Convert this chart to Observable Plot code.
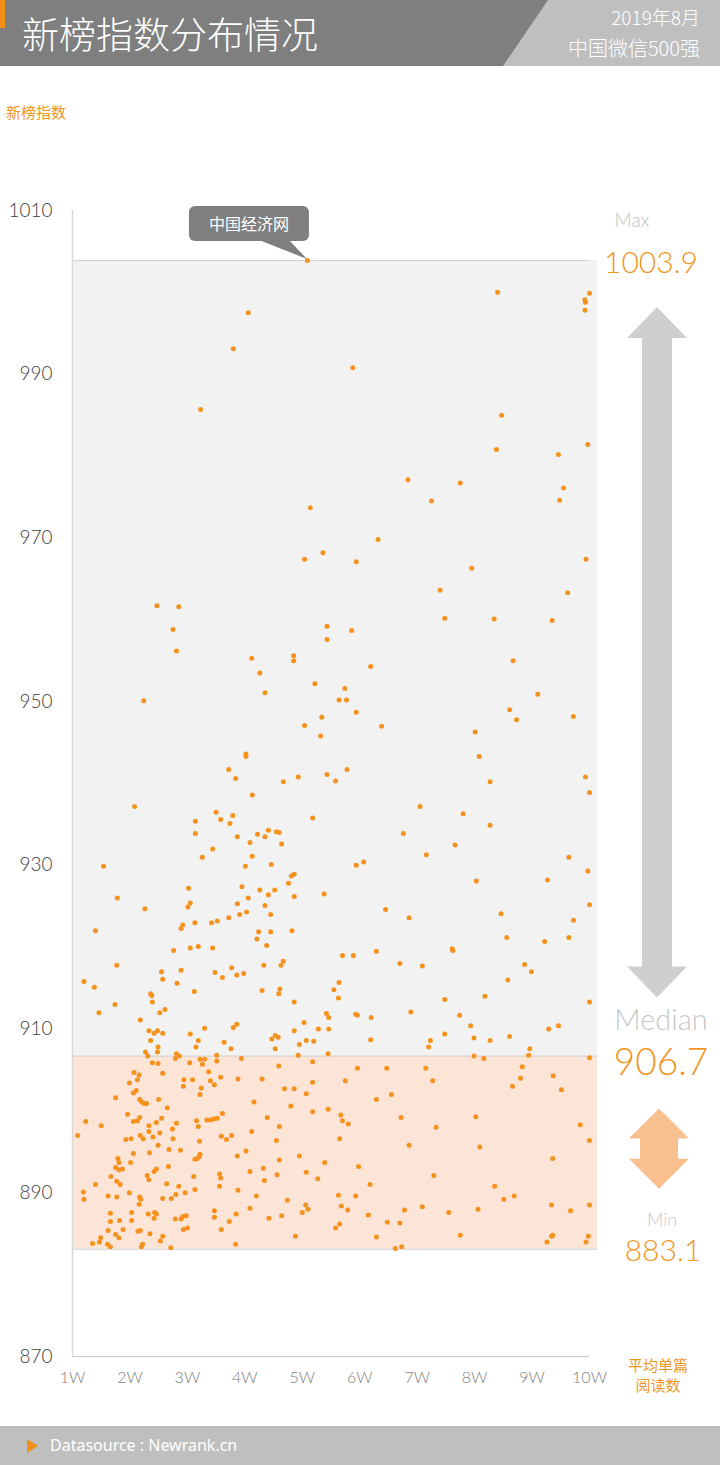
<!DOCTYPE html>
<html><head><meta charset="utf-8">
<script src="https://cdn.jsdelivr.net/npm/d3@7"></script>
<script src="https://cdn.jsdelivr.net/npm/@observablehq/plot@0.6"></script>
<style>
body{margin:0;background:#fff;}
#page{position:relative;width:720px;height:1465px;overflow:hidden;font-family:"Noto Sans CJK SC","Noto Sans",sans-serif;}
#chart{position:absolute;left:0;top:0;}
#hdr{position:absolute;left:0;top:0;width:720px;height:66px;background:#7f7f7f;}
#hdr2{position:absolute;left:503px;top:0;width:217px;height:66px;background:#bfbfbf;clip-path:polygon(45px 0,100% 0,100% 100%,0 100%);}
#bar{position:absolute;left:0;top:0;width:5px;height:28px;background:#f39019;}
#title{position:absolute;left:22px;top:13px;font-size:37px;line-height:40px;color:#fff;font-weight:300;white-space:nowrap;}
#date{position:absolute;right:20px;top:5px;font-size:19px;line-height:24px;color:#fff;font-weight:300;}
#sub{position:absolute;right:20px;top:35px;font-size:20px;line-height:26px;color:#fff;font-weight:300;}
#ytitle{position:absolute;left:6px;top:102px;font-size:15px;line-height:20px;color:#f0961e;}
#xtitle{position:absolute;left:618px;width:80px;top:1355px;font-size:15px;line-height:20px;color:#f0961e;text-align:center;}
#foot{position:absolute;left:0;top:1426px;width:720px;height:39px;background:#bfbfbf;}
#tri{position:absolute;left:27px;top:13px;width:0;height:0;border-top:7px solid transparent;border-bottom:7px solid transparent;border-left:11px solid #f39019;}
#src{position:absolute;left:50px;top:0;line-height:39px;font-size:16px;color:#fff;font-family:"Noto Sans","Open Sans",sans-serif;}
</style></head>
<body>
<div id="page">
  <div id="chart"></div>
  <div id="hdr"></div><div id="hdr2"></div><div id="bar"></div>
  <div id="title"></div>
  <div id="date"></div>
  <div id="sub"></div>
  <div id="ytitle"></div>
  <div id="xtitle"></div>
  <div id="foot"><div id="tri"></div><div id="src"></div></div>
</div>
<script>
// ---- texts ----
const titleText = "新榜指数分布情况";
const dateText = "2019年8月";
const subText = "中国微信500强";
const yTitle = "新榜指数";
const xTitle = ["平均单篇", "阅读数"];
const sourceText = "Datasource : Newrank.cn";

// ---- scales / ticks ----
const yTicks = [870, 890, 910, 930, 950, 970, 990, 1010];
const xTicks = [1, 2, 3, 4, 5, 6, 7, 8, 9, 10];
const xTickLabels = ["1W","2W","3W","4W","5W","6W","7W","8W","9W","10W"];

// ---- statistics ----
const maxValue = 1003.9, medianValue = 906.7, minValue = 883.1;
const maxName = "中国经济网";
const maxReads = 5.09;

// ---- scatter points: [平均单篇阅读数 (万), 新榜指数] ----
const scatterPoints = [
[5.09,1003.9],[4.06,997.5],[3.80,993.1],[3.23,985.7],[8.40,1000.0],[10.0,999.9],[9.92,999.1],[9.93,998.8],[9.92,997.8],
[5.88,990.8],[8.47,985.0],[8.38,980.8],[9.97,981.4],[9.46,980.2],[6.84,977.1],[7.75,976.7],[7.25,974.5],[9.55,976.1],
[9.48,974.6],[6.32,969.8],[5.36,968.2],[5.94,967.1],[7.95,966.3],[9.94,967.4],[7.40,963.6],[9.62,963.3],[7.48,960.2],
[8.34,960.1],[9.35,959.9],[5.43,959.2],[5.43,957.6],[5.86,958.7],[6.19,954.3],[8.67,955.0],[5.74,951.6],[9.10,950.9],
[5.64,950.2],[5.77,950.2],[5.14,973.7],[5.04,967.4],[2.47,961.7],[2.85,961.6],[2.75,958.8],[2.81,956.2],[2.24,950.1],
[4.12,955.3],[4.26,953.5],[4.35,951.1],[4.85,955.6],[4.85,955.0],[5.22,952.2],[5.34,948.1],[5.04,947.1],[5.32,945.8],
[4.02,943.6],[4.02,943.3],[3.72,941.7],[3.84,940.6],[4.67,940.2],[4.93,940.8],[5.43,941.1],[4.13,938.6],[2.08,937.2],
[5.18,935.8],[3.50,936.5],[3.79,936.1],[3.14,935.4],[3.58,935.6],[3.74,935.1],[3.14,933.9],[3.87,933.5],[4.22,933.8],
[4.35,933.5],[4.41,934.3],[4.55,934.1],[4.60,934.0],[4.09,932.8],[4.64,932.6],[3.44,932.0],
[3.26,931.0],[4.13,931.1],[4.01,929.9],[4.46,930.1],[1.54,929.9],[1.78,926.0],[2.26,924.7],[3.02,927.2],[3.01,924.9],
[3.05,925.4],[3.13,923.0],[2.89,922.3],[2.92,922.7],[3.95,927.4],[4.26,927.0],[4.41,926.4],[4.52,927.0],[4.76,927.8],
[4.81,928.7],[4.86,928.9],[4.86,926.2],[5.38,926.5],[3.87,925.3],[4.06,926.0],[4.35,925.1],[4.45,924.0],[3.91,924.0],
[4.03,924.3],[3.72,923.6],[3.42,923.0],[3.52,923.2],[1.40,922.0],[4.24,921.9],[4.45,921.9],[4.21,921.0],[4.38,920.2],
[4.82,922.0],[2.76,919.6],[3.05,919.9],[3.19,920.1],[3.44,919.9],[1.77,917.8],[2.55,917.0],[2.57,916.1],[2.89,917.2],
[2.82,915.6],[3.12,914.6],[3.48,916.9],[3.61,916.3],[3.77,917.5],[3.86,916.6],[3.98,916.8],[4.33,917.8],[4.63,917.8],
[4.67,918.3],[1.20,915.8],[1.38,915.1],[1.74,913.0],[1.46,912.0],[2.36,914.3],[2.38,914.1],[2.39,913.3],[2.52,912.0],
[2.61,912.4],[2.18,911.1],[4.30,914.7],[4.61,914.9],[4.59,914.3],[4.86,913.3],[5.42,911.9],[5.46,911.4],[5.03,910.8],
[5.28,910.0],[5.46,910.0],[4.86,909.8],[2.33,909.8],[2.42,909.5],[2.48,909.8],[2.57,909.5],[2.36,908.6],[2.49,907.8],
[3.05,909.4],[3.30,910.1],[3.80,910.2],[3.86,910.6],[3.19,908.6],[3.15,907.8],[3.64,908.4],[3.76,907.6],[4.47,908.8],
[4.53,909.2],[4.58,909.0],[4.53,907.6],[4.95,908.1],[5.07,908.6],[5.20,908.5],
[2.27,907.2],[2.31,906.7],[2.48,907.2],[2.81,907.0],[2.86,906.7],[2.79,906.4],[3.51,906.8],[3.94,906.4],[4.93,906.8],
[5.45,907.0],[2.39,905.9],[2.49,905.8],[3.04,905.9],[3.22,906.3],[3.30,906.3],[3.26,905.7],[3.51,906.1],[2.57,904.6],
[2.07,904.7],[2.16,904.4],[2.13,903.8],[1.99,903.4],[1.75,901.6],[2.06,902.2],[2.11,902.5],[2.17,901.4],[2.21,901.1],
[2.25,900.9],[2.29,900.9],[2.50,901.4],[2.65,900.4],[2.94,903.8],[3.09,903.8],[2.93,903.0],[3.24,902.8],[3.37,904.8],
[3.40,903.7],[3.47,903.2],[3.58,904.1],[3.22,902.0],[3.88,903.9],[4.30,903.9],[4.59,905.5],[4.69,902.7],[4.86,902.7],
[5.07,902.1],[5.18,906.0],[5.18,903.5],[4.80,900.6],[5.18,899.9],[5.45,900.2],[4.16,901.1],[4.39,899.2],[1.23,898.7],
[1.50,898.2],[1.09,897.0],[1.96,899.6],[2.06,898.7],[2.13,898.8],[2.17,899.2],[2.33,898.2],[2.46,898.6],[2.55,899.1],
[2.81,898.5],[2.74,897.8],[2.33,897.5],[2.52,897.3],[2.18,897.0],[2.23,896.6],[2.40,896.8],[1.93,896.5],[2.02,896.6],
[2.75,896.6],[2.49,895.8],[2.68,895.3],[2.88,895.2],[2.34,894.9],[2.06,894.8],[3.16,898.8],[3.19,898.1],[3.34,898.9],
[3.40,898.9],[3.46,899.0],[3.52,899.1],[3.61,899.7],[3.21,896.3],[3.59,896.9],[3.68,896.5],[3.77,897.0],[4.12,897.5],
[4.60,898.1],[4.55,896.4],[3.87,894.5],[4.02,895.1],[4.60,894.0],[4.95,894.5],[5.39,893.7],[3.13,894.1],[3.17,894.2],
[3.21,894.4],[3.22,894.7],[1.79,894.2],[1.81,893.7],[1.75,893.1],[1.81,892.8],[1.87,892.9],[2.01,893.7],[2.67,893.2],
[2.42,892.6],[2.46,892.9],[2.30,892.1],[2.33,891.6],[1.67,892.0],[1.77,891.4],[1.83,891.0],[1.40,891.0],[2.64,891.1],
[2.85,890.8],[3.11,892.0],[3.13,890.4],[2.96,890.0],[2.80,889.8],[2.72,889.3],[2.57,889.3],[1.99,890.0],[2.17,889.5],
[2.19,889.2],[1.62,889.6],[1.77,889.5],[1.19,890.1],[1.20,889.2],[2.16,888.6],[3.56,892.3],[3.58,891.8],[3.56,890.8],
[3.88,890.3],[4.09,892.6],[4.32,893.0],[4.34,891.5],[4.56,892.2],[4.20,889.6],[4.09,888.1],[4.74,889.1],[5.07,892.5],
[5.27,891.7],[5.06,888.5],[5.10,888.0],[5.00,887.6],[4.64,887.2],[4.42,886.9],[3.85,887.4],[3.73,886.5],[3.47,887.8],
[3.47,887.0],[3.59,885.5],[2.79,886.8],[2.89,886.8],[2.92,887.1],[2.98,887.2],[2.93,885.5],[3.00,885.7],[2.43,887.6],
[2.46,887.4],[2.42,886.9],[2.32,887.4],[2.03,887.6],[2.03,886.6],[1.82,886.6],[1.66,887.5],[1.66,886.5],[1.62,885.4],
[1.88,885.5],[2.14,885.3],[2.18,885.4],[2.35,885.0],[2.57,884.7],[2.53,884.1],[1.75,884.9],[1.81,884.5],[1.49,884.5],
[1.47,884.0],[1.35,883.8],[1.61,883.7],[1.66,883.4],[2.22,883.7],[2.20,883.4],[2.71,883.3],[3.84,883.7],[4.88,884.7],
[5.94,948.7],[6.38,947.0],[8.61,949.0],[8.73,947.8],[9.72,948.2],[8.01,946.3],[8.08,943.3],[8.27,940.2],[5.58,940.3],
[5.78,941.7],[9.93,940.8],[10.0,938.9],[7.05,937.2],[7.80,936.3],[8.27,934.9],[6.76,933.9],[7.66,932.5],[7.16,931.3],
[5.94,930.0],[6.07,930.4],[9.64,931.0],[9.97,929.3],[8.03,928.1],[9.27,928.2],[6.45,924.6],[6.86,923.6],[8.46,924.1],
[10.0,925.2],[9.72,923.3],[8.56,921.2],[9.22,920.7],[9.64,921.2],[5.70,919.0],[5.89,919.0],[6.29,919.5],[7.61,919.8],
[7.62,919.6],[6.70,918.0],[7.09,917.7],[8.87,917.9],[8.99,917.0],[8.58,916.0],[5.64,915.7],[5.55,914.8],[5.63,913.8],
[7.48,913.6],[8.18,914.0],[10.0,913.3],[5.93,911.8],[5.96,911.7],[6.20,911.4],[6.89,912.1],[7.74,911.7],[7.93,910.4],
[7.48,909.4],[7.99,908.9],[8.61,909.1],[9.29,910.0],[9.46,910.4],[7.23,908.6],[8.27,908.6],
[6.19,908.7],[7.20,907.8],[7.99,906.7],[8.16,906.4],[8.96,907.6],[8.94,906.8],[10.0,906.5],[5.96,905.2],[6.47,905.2],
[7.15,905.2],[5.75,903.7],[7.27,903.7],[8.83,905.4],[8.80,904.0],[8.66,903.0],[9.37,904.3],[9.51,902.6],[6.29,901.4],
[6.55,902.0],[5.67,899.5],[5.70,898.8],[5.80,898.4],[6.72,899.2],[8.02,899.3],[7.33,898.0],[9.84,898.3],[10.0,896.4],
[5.65,896.6],[6.86,895.8],[8.09,895.6],[5.98,893.2],[9.36,894.2],[7.29,892.1],[6.18,891.0],[5.63,889.7],[5.93,889.6],
[5.68,888.4],[5.79,887.9],[6.15,887.3],[6.78,887.9],[7.09,888.3],[7.55,887.6],[8.06,888.0],[8.35,890.8],[8.51,889.2],
[8.69,889.6],[9.34,888.5],[9.67,887.8],[10.0,888.5],[5.58,885.7],[5.65,886.2],[6.48,886.4],[6.70,886.3],[6.29,884.6],
[6.62,883.2],[6.73,883.4],[7.75,884.8],[9.26,884.0],[9.34,884.7],[9.36,884.8],[9.98,884.7],[9.94,884.0]
];

// ---- colours ----
const orange = "#f5921e";
const orangeText = "#f0961e";
const upperBandFill = "#f2f2f2";
const lowerBandFill = "#fce4d6";

document.getElementById("title").textContent = titleText;
document.getElementById("date").textContent = dateText;
document.getElementById("sub").textContent = subText;
document.getElementById("ytitle").textContent = yTitle;
document.getElementById("xtitle").innerHTML = xTitle.join("<br>");
document.getElementById("src").textContent = sourceText;

const xMin = 1, xMax = 10, bandEnd = 10.14;
const font = '"Noto Sans CJK SC","Noto Sans",sans-serif';
const latin = 'Lato,"Noto Sans",sans-serif';

const chart = Plot.plot({
  width: 720, height: 1465,
  marginTop: 210, marginBottom: 109, marginLeft: 72, marginRight: 131,
  x: {domain: [xMin, xMax]},
  y: {domain: [870, 1010]},
  style: {fontFamily: font, background: "transparent", overflow: "visible"},
  marks: [
    Plot.rect([{y1: medianValue, y2: maxValue}], {x1: xMin, x2: bandEnd, y1: "y1", y2: "y2", fill: upperBandFill}),
    Plot.rect([{y1: minValue, y2: medianValue}], {x1: xMin, x2: bandEnd, y1: "y1", y2: "y2", fill: lowerBandFill}),
    Plot.ruleY([maxValue], {x1: xMin, x2: xMax, stroke: "#d0d0d0", strokeWidth: 1}),
    Plot.ruleY([medianValue, minValue], {x1: xMin, x2: bandEnd, stroke: "#d0d0d0", strokeWidth: 1}),
    Plot.ruleX([xMin], {y1: 870, y2: 1010, stroke: "#d9d9d9", strokeWidth: 1.5}),
    Plot.ruleY([870], {x1: xMin, x2: xMax, stroke: "#c9c9c9", strokeWidth: 1}),
    Plot.dot(scatterPoints, {x: d => d[0], y: d => d[1], r: 2.5, fill: orange, stroke: null}),
    Plot.axisY({ticks: yTicks, tickFormat: d => String(d), tickSize: 0, tickPadding: 20, fontSize: 19, fill: "#404040", fontWeight: 300, fontFamily: latin, label: null}),
    Plot.axisX({ticks: xTicks, tickFormat: d => xTickLabels[xTicks.indexOf(d)], tickSize: 0, tickPadding: 15, fontSize: 16, fill: "#7f7f7f", fontWeight: 300, fontFamily: latin, label: null})
  ]
});
document.getElementById("chart").appendChild(chart);

const xs = chart.scale("x"), ys = chart.scale("y");
const svg = d3.select(chart);
const g = svg.append("g").attr("font-family", font);

// callout for the max point
const px = xs.apply(maxReads), py = ys.apply(maxValue);
g.append("rect").attr("x", px - 118).attr("y", py - 54).attr("width", 120).attr("height", 35).attr("rx", 6).attr("fill", "#7f7f7f");
g.append("polygon").attr("points", [[px - 48, py - 20], [px - 18, py - 20], [px, py - 1]].map(p => p.join(",")).join(" ")).attr("fill", "#7f7f7f");
g.append("text").attr("x", px - 58).attr("y", py - 36).attr("dy", "0.35em").attr("text-anchor", "middle").attr("fill", "#fff").attr("font-size", 16).text(maxName);

// double arrows
function dblArrow(cx, top, bottom, headH, headHalf, shaftHalf, fill) {
  const pts = [
    [cx, top], [cx + headHalf, top + headH], [cx + shaftHalf, top + headH],
    [cx + shaftHalf, bottom - headH], [cx + headHalf, bottom - headH], [cx, bottom],
    [cx - headHalf, bottom - headH], [cx - shaftHalf, bottom - headH], [cx - shaftHalf, top + headH],
    [cx - headHalf, top + headH]
  ];
  g.append("polygon").attr("points", pts.map(p => p.join(",")).join(" ")).attr("fill", fill);
}
const rx = xs.apply(xMax);
dblArrow(rx + 68, ys.apply(maxValue) + 47, ys.apply(medianValue) - 58, 31, 30, 15, "#d0cece");
dblArrow(rx + 70, ys.apply(medianValue) + 53, ys.apply(minValue) - 60, 30, 30, 19, "#f9c08f");

function label(x, y, text, size, fill, weight) {
  g.append("text").attr("x", x).attr("y", y).attr("text-anchor", "middle").attr("font-size", size)
    .attr("font-family", latin).attr("fill", fill).attr("font-weight", weight).text(text);
}
label(rx + 43, ys.apply(maxValue) - 33, "Max", 19, "#bfbfbf", 300);
label(rx + 62, ys.apply(maxValue) + 13, maxValue.toFixed(1), 30, orangeText, 300);
label(rx + 72, ys.apply(medianValue) - 26, "Median", 29, "#c8c8c8", 300);
label(rx + 72, ys.apply(medianValue) + 19, medianValue.toFixed(1), 37, orangeText, 300);
label(rx + 73, ys.apply(minValue) - 23, "Min", 18, "#c8c8c8", 300);
label(rx + 74, ys.apply(minValue) + 12, minValue.toFixed(1), 30, orangeText, 300);
</script>
</body></html>
